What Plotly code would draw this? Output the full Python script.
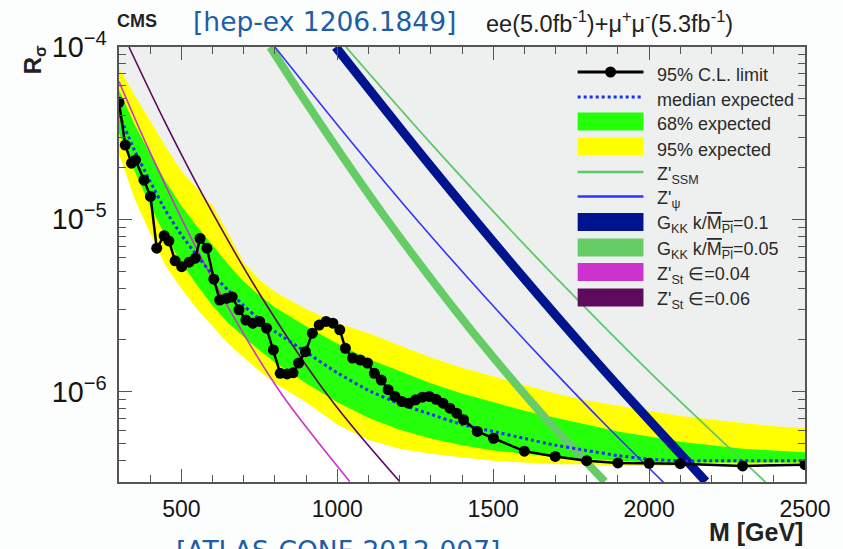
import math
import plotly.graph_objects as go

# ---------------- data ----------------
# observed 95% CL limit on R_sigma vs dilepton mass (GeV)
M_OBS = [300, 320, 340, 353, 380, 401, 421, 445, 460, 480, 501, 525, 545, 560, 582,
         604, 623, 645, 663, 685, 707, 729, 751, 773, 795, 817, 839, 858, 876, 898,
         920, 942, 964, 986, 1008, 1026, 1049, 1074, 1097, 1119, 1141, 1163, 1185,
         1207, 1229, 1251, 1273, 1295, 1317, 1339, 1361, 1383, 1405, 1449, 1501,
         1600, 1699, 1800, 1900, 2000, 2100, 2300, 2500]
R_OBS = [4.78e-5, 2.70e-5, 2.12e-5, 2.21e-5, 1.69e-5, 1.36e-5, 6.81e-6, 8.04e-6, 7.50e-6,
         5.75e-6, 5.32e-6, 5.65e-6, 5.96e-6, 7.76e-6, 6.81e-6, 4.50e-6, 3.41e-6, 3.49e-6,
         3.55e-6, 2.99e-6, 2.61e-6, 2.50e-6, 2.56e-6, 2.34e-6, 1.75e-6, 1.28e-6, 1.27e-6,
         1.29e-6, 1.47e-6, 1.71e-6, 2.19e-6, 2.44e-6, 2.56e-6, 2.50e-6, 2.29e-6, 1.79e-6,
         1.57e-6, 1.53e-6, 1.47e-6, 1.28e-6, 1.17e-6, 1.03e-6, 9.40e-7, 8.79e-7, 8.59e-7,
         8.99e-7, 9.31e-7, 9.40e-7, 9.06e-7, 8.59e-7, 8.04e-7, 7.52e-7, 6.89e-7, 5.89e-7,
         5.38e-7, 4.53e-7, 4.22e-7, 3.99e-7, 3.87e-7, 3.85e-7, 3.83e-7, 3.72e-7, 3.78e-7]

# expected limit: median and 68% / 95% bands
M_EXP = [300, 350, 400, 450, 500, 550, 600, 650, 700, 750, 800, 900, 1000, 1100, 1200,
         1300, 1400, 1500, 1600, 1700, 1800, 1900, 2000, 2100, 2200, 2300, 2400, 2500]
R_MEDIAN = [4.07e-5, 2.51e-5, 1.66e-5, 1.12e-5, 8.13e-6, 6.17e-6, 4.79e-6, 3.89e-6, 3.16e-6,
            2.63e-6, 2.24e-6, 1.70e-6, 1.29e-6, 1.02e-6, 8.51e-7, 7.41e-7, 6.46e-7, 5.89e-7,
            5.37e-7, 4.90e-7, 4.57e-7, 4.27e-7, 4.07e-7, 3.98e-7, 3.98e-7, 3.98e-7, 3.98e-7,
            3.98e-7]
R_68_UP = [5.62e-5, 3.55e-5, 2.40e-5, 1.66e-5, 1.20e-5, 9.12e-6, 7.08e-6, 5.50e-6, 4.37e-6,
           3.63e-6, 3.09e-6, 2.40e-6, 1.91e-6, 1.55e-6, 1.32e-6, 1.12e-6, 9.77e-7, 8.71e-7,
           7.76e-7, 7.08e-7, 6.46e-7, 5.89e-7, 5.50e-7, 5.13e-7, 4.90e-7, 4.68e-7, 4.57e-7,
           4.47e-7]
R_68_DN = [3.16e-5, 1.91e-5, 1.20e-5, 7.94e-6, 5.62e-6, 4.17e-6, 3.16e-6, 2.51e-6, 2.09e-6,
           1.74e-6, 1.48e-6, 1.12e-6, 8.71e-7, 7.08e-7, 6.03e-7, 5.37e-7, 4.90e-7, 4.57e-7,
           4.37e-7, 4.17e-7, 4.07e-7, 3.98e-7, 3.89e-7, 3.89e-7, 3.89e-7, 3.89e-7, 3.89e-7,
           3.89e-7]
R_95_UP = [7.59e-5, 5.25e-5, 3.72e-5, 2.63e-5, 1.91e-5, 1.51e-5, 1.20e-5, 8.32e-6, 5.62e-6,
           4.47e-6, 3.80e-6, 3.02e-6, 2.51e-6, 2.19e-6, 1.86e-6, 1.58e-6, 1.38e-6, 1.23e-6,
           1.10e-6, 9.77e-7, 8.91e-7, 8.32e-7, 7.76e-7, 7.24e-7, 6.92e-7, 6.61e-7, 6.31e-7,
           6.17e-7]
R_95_DN = [2.40e-5, 1.32e-5, 8.32e-6, 5.37e-6, 3.98e-6, 3.02e-6, 2.40e-6, 1.91e-6, 1.58e-6,
           1.32e-6, 1.12e-6, 8.71e-7, 6.46e-7, 5.25e-7, 4.68e-7, 4.37e-7, 4.17e-7, 3.98e-7,
           3.89e-7, 3.80e-7, 3.80e-7, 3.72e-7, 3.72e-7, 3.72e-7, 3.72e-7, 3.72e-7, 3.72e-7,
           3.72e-7]

# theory predictions (mass, R_sigma)
M_SSM = [1028, 1300, 1600, 1711, 1900, 2020, 2373]
R_SSM = [1.0e-4, 2.76e-5, 7.14e-6, 4.41e-6, 1.98e-6, 1.21e-6, 3.0e-7]
M_PSI = [800, 1040, 1250, 1477, 1679, 1860, 2050]
R_PSI = [1.0e-4, 2.89e-5, 1.02e-5, 3.50e-6, 1.41e-6, 6.44e-7, 2.94e-7]
M_G01 = [995, 1300, 1600, 1818, 1956, 2182]
R_G01 = [1.0e-4, 2.03e-5, 4.53e-6, 1.59e-6, 8.38e-7, 3.02e-7]
M_G005 = [785, 900, 1024, 1150, 1359, 1500, 1679, 1858]
R_G005 = [1.0e-4, 4.78e-5, 2.22e-5, 1.05e-5, 3.30e-6, 1.59e-6, 6.68e-7, 3.02e-7]
M_ST04 = [300, 400, 560, 700, 827, 1040]
R_ST04 = [6.31e-5, 2.44e-5, 6.18e-6, 2.16e-6, 9.40e-7, 3.02e-7]
M_ST06 = [332, 450, 571, 750, 976, 1200]
R_ST06 = [1.0e-4, 3.59e-5, 1.36e-5, 3.72e-6, 9.20e-7, 3.02e-7]

X_RANGE = [300, 2500]
Y_RANGE = [3.0e-7, 1.0e-4]
X_TICKS = [500, 1000, 1500, 2000, 2500]

# ---------------- style ----------------
C_GRAY = "#eef0ef"
C_YELLOW = "#ffff00"
C_GREEN = "#26ff0a"
C_MEDIAN = "#1530f0"
C_SSM = "#5ec865"
C_PSI = "#3333ff"
C_G01 = "#00148f"
C_G005 = "#66cc66"
C_ST04 = "#cc33cc"
C_ST06 = "#600a5f"
C_AXIS = "#555555"
C_TEXT = "#222222"
C_BLUE_REF = "#1d5ea8"

W, H = 843, 549
ML, MR, MT, MB = 119, 36, 47, 67
PW, PH = W - ML - MR, H - MT - MB


def fx(x):
    """pixel x -> paper x"""
    return (x - ML) / PW


def fy(y):
    """pixel y (from top) -> paper y"""
    return (H - MB - y) / PH


fig = go.Figure()

# excluded region above the observed limit
fig.add_trace(go.Scatter(
    x=M_OBS + [X_RANGE[1], X_RANGE[0]],
    y=R_OBS + [Y_RANGE[1], Y_RANGE[1]],
    fill="toself", fillcolor=C_GRAY, line=dict(width=0),
    mode="lines", hoverinfo="skip", showlegend=False))

# 95% and 68% expected bands
fig.add_trace(go.Scatter(
    x=M_EXP + M_EXP[::-1], y=R_95_UP + R_95_DN[::-1],
    fill="toself", fillcolor=C_YELLOW, line=dict(width=0),
    mode="lines", hoverinfo="skip", showlegend=False))
fig.add_trace(go.Scatter(
    x=M_EXP + M_EXP[::-1], y=R_68_UP + R_68_DN[::-1],
    fill="toself", fillcolor=C_GREEN, line=dict(width=0),
    mode="lines", hoverinfo="skip", showlegend=False))

# theory curves
for xs, ys, col, wd in [
    (M_ST04, R_ST04, C_ST04, 1.6),
    (M_ST06, R_ST06, C_ST06, 1.6),
    (M_G005, R_G005, C_G005, 8),
    (M_G01, R_G01, C_G01, 9),
    (M_PSI, R_PSI, C_PSI, 1.6),
    (M_SSM, R_SSM, C_SSM, 1.8),
]:
    fig.add_trace(go.Scatter(x=xs, y=ys, mode="lines",
                             line=dict(color=col, width=wd, shape="spline", smoothing=1.0),
                             hoverinfo="skip", showlegend=False))

# median expected
fig.add_trace(go.Scatter(x=M_EXP, y=R_MEDIAN, mode="lines",
                         line=dict(color=C_MEDIAN, width=3, dash="dot", shape="spline", smoothing=0.5),
                         hoverinfo="skip", showlegend=False))

# observed limit
fig.add_trace(go.Scatter(x=M_OBS, y=R_OBS, mode="lines+markers",
                         line=dict(color="black", width=2.5),
                         marker=dict(color="black", size=11),
                         hoverinfo="skip", showlegend=False))

# ---------------- legend (drawn by hand, ROOT style) ----------------
shapes = []
annotations = []
SX0, SX1, TX = 579, 645, 657
leg_font = dict(family="Liberation Sans, Arial, sans-serif", size=18, color="#2a2a2a")
rows = [
    ("obs", 72, "95% C.L. limit"),
    ("dot", 97, "median expected"),
    ("box", 121.5, "68% expected", C_GREEN),
    ("box", 146.5, "95% expected", C_YELLOW),
    ("line", 172, "Z'<sub>SSM</sub>", C_SSM),
    ("line", 196.5, "Z'<sub>ψ</sub>", C_PSI),
    ("box", 222, "G<sub>KK</sub> k/<span style='text-decoration:overline'>M<sub>Pl</sub></span>=0.1", C_G01),
    ("box", 247.5, "G<sub>KK</sub> k/<span style='text-decoration:overline'>M<sub>Pl</sub></span>=0.05", C_G005),
    ("box", 272, "Z'<sub>St</sub> ∈=0.04", C_ST04),
    ("box", 297.5, "Z'<sub>St</sub> ∈=0.06", C_ST06),
]
for row in rows:
    kind, yc, label = row[0], row[1], row[2]
    if kind == "obs":
        shapes.append(dict(type="line", xref="paper", yref="paper",
                           x0=fx(SX0), x1=fx(SX1), y0=fy(yc), y1=fy(yc),
                           line=dict(color="black", width=3)))
        cx = (SX0 + SX1) / 2
        shapes.append(dict(type="circle", xref="paper", yref="paper",
                           x0=fx(cx - 5.5), x1=fx(cx + 5.5), y0=fy(yc + 5.5), y1=fy(yc - 5.5),
                           fillcolor="black", line=dict(color="black", width=0)))
    elif kind == "dot":
        shapes.append(dict(type="line", xref="paper", yref="paper",
                           x0=fx(SX0), x1=fx(SX1), y0=fy(yc), y1=fy(yc),
                           line=dict(color=C_MEDIAN, width=3, dash="dot")))
    elif kind == "line":
        shapes.append(dict(type="line", xref="paper", yref="paper",
                           x0=fx(SX0), x1=fx(SX1), y0=fy(yc), y1=fy(yc),
                           line=dict(color=row[3], width=2.5)))
    else:
        shapes.append(dict(type="rect", xref="paper", yref="paper",
                           x0=fx(SX0), x1=fx(SX1), y0=fy(yc + 9), y1=fy(yc - 9),
                           fillcolor=row[3], line=dict(width=0)))
    annotations.append(dict(text=label, xref="paper", yref="paper",
                            x=fx(TX), y=fy(yc + 3), xanchor="left", yanchor="middle",
                            showarrow=False, font=leg_font))

# ---------------- titles ----------------
annotations += [
    dict(text="<b>CMS</b>", xref="paper", yref="paper", x=fx(115), y=fy(21),
         xanchor="left", yanchor="middle", showarrow=False,
         font=dict(family="Liberation Sans, Arial, sans-serif", size=18, color=C_TEXT)),
    dict(text="[hep-ex 1206.1849]", xref="paper", yref="paper", x=fx(191), y=fy(21),
         xanchor="left", yanchor="middle", showarrow=False,
         font=dict(family="DejaVu Sans, sans-serif", size=26.5, color=C_BLUE_REF)),
    dict(text="ee(5.0fb<sup>-1</sup>)+μ<sup>+</sup>μ<sup>-</sup>(5.3fb<sup>-1</sup>)",
         xref="paper", yref="paper", x=fx(485), y=fy(22),
         xanchor="left", yanchor="middle", showarrow=False,
         font=dict(family="Liberation Sans, Arial, sans-serif", size=23.5, color=C_TEXT)),
    dict(text="[ATLAS-CONF-2012-007]", xref="paper", yref="paper", x=fx(174), y=fy(533),
         xanchor="left", yanchor="top", showarrow=False,
         font=dict(family="DejaVu Sans, sans-serif", size=26.5, color=C_BLUE_REF)),
    dict(text="<b>M [GeV]</b>", xref="paper", yref="paper", x=fx(807), y=fy(532),
         xanchor="right", yanchor="middle", showarrow=False,
         font=dict(family="Liberation Sans, Arial, sans-serif", size=25, color=C_TEXT)),
    dict(text="<b>R<sub>σ</sub></b>", xref="paper", yref="paper", x=fx(35), y=fy(60),
         xanchor="center", yanchor="middle", textangle=-90, showarrow=False,
         font=dict(family="Liberation Sans, Arial, sans-serif", size=24, color=C_TEXT)),
]

tick_font = dict(family="Liberation Sans, Arial, sans-serif", size=23, color="#151515")

fig.update_layout(
    width=W, height=H, autosize=False,
    margin=dict(l=ML, r=MR, t=MT, b=MB, pad=0),
    paper_bgcolor="#fcfdfd", plot_bgcolor="white",
    shapes=shapes, annotations=annotations,
    xaxis=dict(range=X_RANGE, tickvals=X_TICKS, ticks="inside", ticklen=13, tickwidth=1.3,
               tickcolor=C_AXIS, showline=True, linecolor=C_AXIS, linewidth=1.5,
               mirror="ticks", showgrid=False, zeroline=False, tickfont=tick_font,
               ticklabelstandoff=6,
               minor=dict(dtick=100, ticks="inside", ticklen=7, tickcolor=C_AXIS,
                          tickwidth=1.2, showgrid=False)),
    yaxis=dict(type="log", range=[math.log10(Y_RANGE[0]), math.log10(Y_RANGE[1])],
               dtick=1, exponentformat="power", ticks="inside", ticklen=13, tickwidth=1.3,
               tickcolor=C_AXIS, showline=True, linecolor=C_AXIS, linewidth=1.5,
               mirror="ticks", showgrid=False, zeroline=False, tickfont=tick_font,
               ticklabelstandoff=6,
               minor=dict(dtick="D1", ticks="inside", ticklen=7, tickcolor=C_AXIS,
                          tickwidth=1.2, showgrid=False)),
)

fig.write_html("out.html")
